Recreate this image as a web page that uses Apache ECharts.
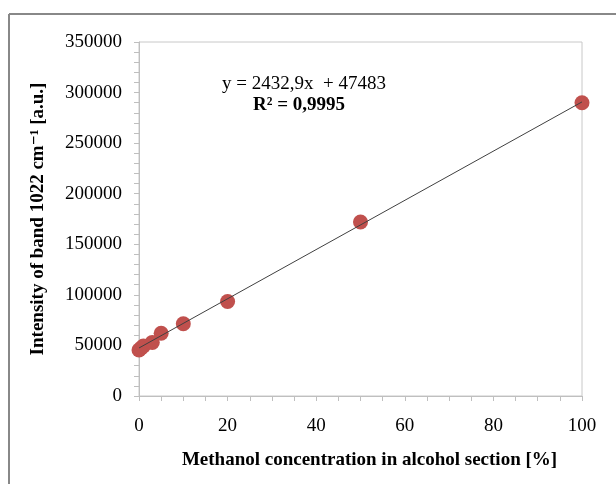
<!DOCTYPE html>
<html>
<head>
<meta charset="utf-8">
<script src="https://cdn.jsdelivr.net/npm/echarts@6/dist/echarts.min.js"></script>
<style>
html, body { margin: 0; padding: 0; background: #fff; }
#chart { width: 616px; height: 484px; }
</style>
</head>
<body>
<div id="chart"></div>
<script>
// methanol concentration [%] and band intensity
const concentration = [0, 0.5, 1, 3, 5, 10, 20, 50, 100];
const intensity = [45500, 47500, 49500, 53000, 62000, 71500, 93500, 172000, 290000];
// linear fit printed on the chart
const slope = 2432.9;
const intercept = 47483;
const fitX = [0, 100];

const serif = "'Liberation Serif', 'DejaVu Serif', serif";
let chart = echarts.init(document.getElementById("chart"));

let option = {
  animation: false,
  grid: {
    left: 139, top: 42, right: 34, bottom: 88,
    show: true, borderColor: "#c8c8c8", borderWidth: 1
  },
  xAxis: {
    type: "value", min: 0, max: 100, interval: 20,
    name: "Methanol concentration in alcohol section [%]",
    nameLocation: "middle", nameGap: 55,
    nameTextStyle: { fontFamily: serif, fontSize: 19, fontWeight: "bold", color: "#000", padding: [0, 0, 0, 18] },
    axisLine: { lineStyle: { color: "#bfbfbf", width: 1 } },
    axisTick: { show: true, inside: false, length: 5, lineStyle: { color: "#bfbfbf" } },
    minorTick: { show: true, splitNumber: 4, length: 5, lineStyle: { color: "#bfbfbf" } },
    splitLine: { show: false },
    axisLabel: { fontFamily: serif, fontSize: 19, color: "#000", margin: 21 }
  },
  yAxis: {
    type: "value", min: 0, max: 350000, interval: 50000,
    name: "Intensity of band 1022 cm\u207B\u00B9 [a.u.]",
    nameLocation: "middle", nameGap: 91, nameRotate: 90,
    nameTextStyle: { fontFamily: serif, fontSize: 19, fontWeight: "bold", color: "#000" },
    axisLine: { show: true, lineStyle: { color: "#bfbfbf", width: 1 } },
    axisTick: { show: true, inside: false, length: 5, lineStyle: { color: "#bfbfbf" } },
    minorTick: { show: true, splitNumber: 5, length: 5, lineStyle: { color: "#bfbfbf" } },
    splitLine: { show: false },
    axisLabel: { fontFamily: serif, fontSize: 19, color: "#000", margin: 17, formatter: v => String(v) }
  },
  graphic: [
    { type: "line", shape: { x1: 9, y1: 14, x2: 616, y2: 14 }, style: { stroke: "#888", lineWidth: 2 } },
    { type: "line", shape: { x1: 9, y1: 14, x2: 9, y2: 484 }, style: { stroke: "#888", lineWidth: 2 } },
    { type: "text", left: 222, top: 75,
      style: { text: "y = 2432,9x  + 47483", font: "19px " + serif, fill: "#000" } },
    { type: "text", left: 253, top: 96,
      style: { text: "R\u00B2 = 0,9995", font: "bold 19px " + serif, fill: "#000" } }
  ],
  series: [
    {
      type: "line",
      data: fitX.map(x => [x, slope * x + intercept]),
      symbol: "none",
      lineStyle: { color: "#404040", width: 1 },
      z: 3
    },
    {
      type: "scatter",
      data: concentration.map((x, i) => [x, intensity[i]]),
      symbolSize: 15,
      itemStyle: { color: "#c0504d", opacity: 1 },
      z: 2
    }
  ]
};

option && chart.setOption(option);
</script>
</body>
</html>
